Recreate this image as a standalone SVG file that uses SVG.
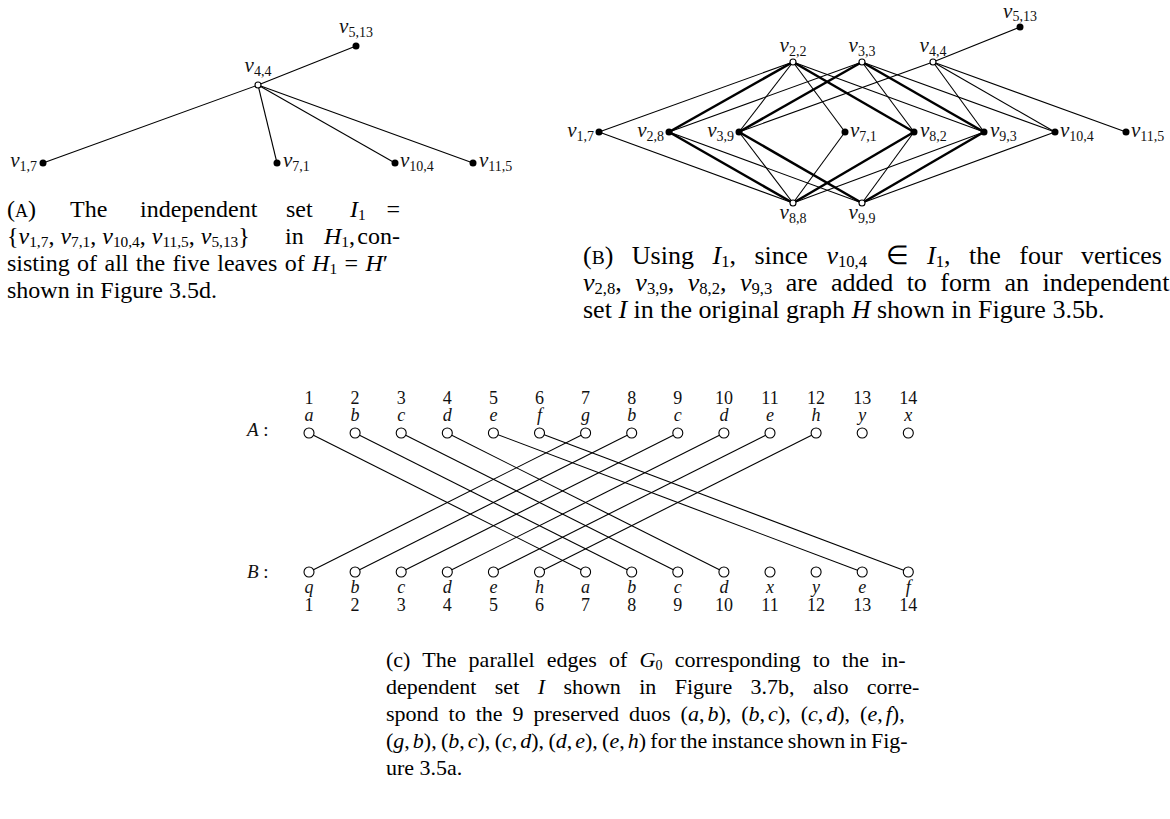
<svg xmlns="http://www.w3.org/2000/svg" width="1170" height="819" viewBox="0 0 1170 819">
<style>
.bg{fill:#fff}
.e{stroke:#000;stroke-width:1.1;fill:none}
.t{stroke:#000;stroke-width:2.5;fill:none}
.f{fill:#000}
.o{fill:#fff;stroke:#000;stroke-width:1.1}
.lab{font-family:"Liberation Serif",serif;font-size:21px;font-style:italic;fill:#111}
.s{font-size:14px;font-style:normal}
.m{text-anchor:middle}
.r{text-anchor:end}
.cl{font-family:"Liberation Serif",serif;font-size:18px;fill:#111;text-anchor:middle}
.ci{font-style:italic}
.cap{font-family:"Liberation Serif",serif;fill:#000}
.ca{font-size:24px}
.cb{font-size:26px}
.cc{font-size:22px}
.i{font-style:italic}
.cs{font-size:0.64em}
.sc{font-size:0.75em}
</style>
<rect class="bg" x="0" y="0" width="1170" height="819"/>

<!-- Panel A -->
<g id="panelA-edges">
<line class="e" x1="258" y1="85" x2="356" y2="46"/>
<line class="e" x1="258" y1="85" x2="43" y2="163"/>
<line class="e" x1="258" y1="85" x2="277" y2="163"/>
<line class="e" x1="258" y1="85" x2="395" y2="163"/>
<line class="e" x1="258" y1="85" x2="473" y2="163"/>
</g>
<g id="A-v44"><circle class="o" cx="258" cy="85" r="3"/><text class="lab m" x="258" y="72">v<tspan class="s" dy="4">4,4</tspan></text></g>
<g id="A-v513"><circle class="f" cx="356" cy="46" r="3.5"/><text class="lab m" x="356" y="33">v<tspan class="s" dy="4">5,13</tspan></text></g>
<g id="A-v17"><circle class="f" cx="43" cy="163" r="3.5"/><text class="lab r" x="37" y="167">v<tspan class="s" dy="4">1,7</tspan></text></g>
<g id="A-v71"><circle class="f" cx="277" cy="163" r="3.5"/><text class="lab" x="283" y="167">v<tspan class="s" dy="4">7,1</tspan></text></g>
<g id="A-v104"><circle class="f" cx="395" cy="163" r="3.5"/><text class="lab" x="400" y="167">v<tspan class="s" dy="4">10,4</tspan></text></g>
<g id="A-v115"><circle class="f" cx="473" cy="163" r="3.5"/><text class="lab" x="479" y="167">v<tspan class="s" dy="4">11,5</tspan></text></g>

<!-- Panel B -->
<g id="panelB-edges">
<line class="e" x1="599" y1="132" x2="793" y2="62"/>
<line class="e" x1="599" y1="132" x2="793" y2="203"/>
<line class="e" x1="669" y1="132" x2="862" y2="62"/>
<line class="e" x1="669" y1="132" x2="862" y2="203"/>
<line class="e" x1="739" y1="132" x2="793" y2="62"/>
<line class="e" x1="739" y1="132" x2="793" y2="203"/>
<line class="e" x1="739" y1="132" x2="933" y2="62"/>
<line class="e" x1="793" y1="62" x2="845" y2="132"/>
<line class="e" x1="793" y1="62" x2="984" y2="132"/>
<line class="e" x1="862" y1="62" x2="914" y2="132"/>
<line class="e" x1="862" y1="62" x2="1055" y2="132"/>
<line class="e" x1="933" y1="62" x2="1020" y2="27"/>
<line class="e" x1="933" y1="62" x2="984" y2="132"/>
<line class="e" x1="933" y1="62" x2="1055" y2="132"/>
<line class="e" x1="933" y1="62" x2="1126" y2="132"/>
<line class="e" x1="793" y1="203" x2="845" y2="132"/>
<line class="e" x1="793" y1="203" x2="984" y2="132"/>
<line class="e" x1="862" y1="203" x2="914" y2="132"/>
<line class="e" x1="862" y1="203" x2="1055" y2="132"/>
<line class="t" x1="669" y1="132" x2="793" y2="62"/>
<line class="t" x1="669" y1="132" x2="793" y2="203"/>
<line class="t" x1="739" y1="132" x2="862" y2="62"/>
<line class="t" x1="739" y1="132" x2="862" y2="203"/>
<line class="t" x1="793" y1="62" x2="914" y2="132"/>
<line class="t" x1="862" y1="62" x2="984" y2="132"/>
<line class="t" x1="793" y1="203" x2="914" y2="132"/>
<line class="t" x1="862" y1="203" x2="984" y2="132"/>
</g>
<g id="B-v17"><circle class="f" cx="599" cy="132" r="3.5"/><text class="lab r" x="594" y="137">v<tspan class="s" dy="4">1,7</tspan></text></g>
<g id="B-v28"><circle class="f" cx="669" cy="132" r="3.5"/><text class="lab r" x="664" y="137">v<tspan class="s" dy="4">2,8</tspan></text></g>
<g id="B-v39"><circle class="f" cx="739" cy="132" r="3.5"/><text class="lab r" x="734" y="137">v<tspan class="s" dy="4">3,9</tspan></text></g>
<g id="B-v71"><circle class="f" cx="845" cy="132" r="3.5"/><text class="lab" x="850" y="137">v<tspan class="s" dy="4">7,1</tspan></text></g>
<g id="B-v82"><circle class="f" cx="914" cy="132" r="3.5"/><text class="lab" x="920" y="137">v<tspan class="s" dy="4">8,2</tspan></text></g>
<g id="B-v93"><circle class="f" cx="984" cy="132" r="3.5"/><text class="lab" x="990" y="137">v<tspan class="s" dy="4">9,3</tspan></text></g>
<g id="B-v104"><circle class="f" cx="1055" cy="132" r="3.5"/><text class="lab" x="1060" y="137">v<tspan class="s" dy="4">10,4</tspan></text></g>
<g id="B-v115"><circle class="f" cx="1126" cy="132" r="3.5"/><text class="lab" x="1131" y="137">v<tspan class="s" dy="4">11,5</tspan></text></g>
<g id="B-v22"><circle class="o" cx="793" cy="62" r="3"/><text class="lab m" x="793" y="52">v<tspan class="s" dy="4">2,2</tspan></text></g>
<g id="B-v33"><circle class="o" cx="862" cy="62" r="3"/><text class="lab m" x="862" y="52">v<tspan class="s" dy="4">3,3</tspan></text></g>
<g id="B-v44"><circle class="o" cx="933" cy="62" r="3"/><text class="lab m" x="933" y="52">v<tspan class="s" dy="4">4,4</tspan></text></g>
<g id="B-v513"><circle class="f" cx="1020" cy="27" r="3.5"/><text class="lab m" x="1020" y="18">v<tspan class="s" dy="3">5,13</tspan></text></g>
<g id="B-v88"><circle class="o" cx="793" cy="203" r="3"/><text class="lab m" x="793" y="219">v<tspan class="s" dy="4">8,8</tspan></text></g>
<g id="B-v99"><circle class="o" cx="862" cy="203" r="3"/><text class="lab m" x="862" y="219">v<tspan class="s" dy="4">9,9</tspan></text></g>

<!-- Panel C -->
<g id="panelC-edges">
<line class="e" x1="309" y1="433" x2="585.6" y2="572"/>
<line class="e" x1="355.1" y1="433" x2="631.7" y2="572"/>
<line class="e" x1="401.2" y1="433" x2="677.8" y2="572"/>
<line class="e" x1="447.3" y1="433" x2="723.9" y2="572"/>
<line class="e" x1="493.4" y1="433" x2="862.2" y2="572"/>
<line class="e" x1="539.5" y1="433" x2="908.3" y2="572"/>
<line class="e" x1="585.6" y1="433" x2="309" y2="572"/>
<line class="e" x1="631.7" y1="433" x2="355.1" y2="572"/>
<line class="e" x1="677.8" y1="433" x2="401.2" y2="572"/>
<line class="e" x1="723.9" y1="433" x2="447.3" y2="572"/>
<line class="e" x1="770" y1="433" x2="493.4" y2="572"/>
<line class="e" x1="816.1" y1="433" x2="539.5" y2="572"/>
</g>
<g id="rowA">
<text class="cl" x="247" y="436" style="text-anchor:start;font-size:19px"><tspan class="ci">A</tspan> :</text>
<g id="A1"><circle class="o" cx="309" cy="433" r="5"/><text class="cl" x="309" y="404">1</text><text class="cl ci" x="309" y="421">a</text></g>
<g id="A2"><circle class="o" cx="355.1" cy="433" r="5"/><text class="cl" x="355.1" y="404">2</text><text class="cl ci" x="355.1" y="421">b</text></g>
<g id="A3"><circle class="o" cx="401.2" cy="433" r="5"/><text class="cl" x="401.2" y="404">3</text><text class="cl ci" x="401.2" y="421">c</text></g>
<g id="A4"><circle class="o" cx="447.3" cy="433" r="5"/><text class="cl" x="447.3" y="404">4</text><text class="cl ci" x="447.3" y="421">d</text></g>
<g id="A5"><circle class="o" cx="493.4" cy="433" r="5"/><text class="cl" x="493.4" y="404">5</text><text class="cl ci" x="493.4" y="421">e</text></g>
<g id="A6"><circle class="o" cx="539.5" cy="433" r="5"/><text class="cl" x="539.5" y="404">6</text><text class="cl ci" x="539.5" y="421">f</text></g>
<g id="A7"><circle class="o" cx="585.6" cy="433" r="5"/><text class="cl" x="585.6" y="404">7</text><text class="cl ci" x="585.6" y="421">g</text></g>
<g id="A8"><circle class="o" cx="631.7" cy="433" r="5"/><text class="cl" x="631.7" y="404">8</text><text class="cl ci" x="631.7" y="421">b</text></g>
<g id="A9"><circle class="o" cx="677.8" cy="433" r="5"/><text class="cl" x="677.8" y="404">9</text><text class="cl ci" x="677.8" y="421">c</text></g>
<g id="A10"><circle class="o" cx="723.9" cy="433" r="5"/><text class="cl" x="723.9" y="404">10</text><text class="cl ci" x="723.9" y="421">d</text></g>
<g id="A11"><circle class="o" cx="770" cy="433" r="5"/><text class="cl" x="770" y="404">11</text><text class="cl ci" x="770" y="421">e</text></g>
<g id="A12"><circle class="o" cx="816.1" cy="433" r="5"/><text class="cl" x="816.1" y="404">12</text><text class="cl ci" x="816.1" y="421">h</text></g>
<g id="A13"><circle class="o" cx="862.2" cy="433" r="5"/><text class="cl" x="862.2" y="404">13</text><text class="cl ci" x="862.2" y="421">y</text></g>
<g id="A14"><circle class="o" cx="908.3" cy="433" r="5"/><text class="cl" x="908.3" y="404">14</text><text class="cl ci" x="908.3" y="421">x</text></g>
</g>
<g id="rowB">
<text class="cl" x="247" y="578" style="text-anchor:start;font-size:19px"><tspan class="ci">B</tspan> :</text>
<g id="B1"><circle class="o" cx="309" cy="572" r="5"/><text class="cl ci" x="309" y="593">q</text><text class="cl" x="309" y="611">1</text></g>
<g id="B2"><circle class="o" cx="355.1" cy="572" r="5"/><text class="cl ci" x="355.1" y="593">b</text><text class="cl" x="355.1" y="611">2</text></g>
<g id="B3"><circle class="o" cx="401.2" cy="572" r="5"/><text class="cl ci" x="401.2" y="593">c</text><text class="cl" x="401.2" y="611">3</text></g>
<g id="B4"><circle class="o" cx="447.3" cy="572" r="5"/><text class="cl ci" x="447.3" y="593">d</text><text class="cl" x="447.3" y="611">4</text></g>
<g id="B5"><circle class="o" cx="493.4" cy="572" r="5"/><text class="cl ci" x="493.4" y="593">e</text><text class="cl" x="493.4" y="611">5</text></g>
<g id="B6"><circle class="o" cx="539.5" cy="572" r="5"/><text class="cl ci" x="539.5" y="593">h</text><text class="cl" x="539.5" y="611">6</text></g>
<g id="B7"><circle class="o" cx="585.6" cy="572" r="5"/><text class="cl ci" x="585.6" y="593">a</text><text class="cl" x="585.6" y="611">7</text></g>
<g id="B8"><circle class="o" cx="631.7" cy="572" r="5"/><text class="cl ci" x="631.7" y="593">b</text><text class="cl" x="631.7" y="611">8</text></g>
<g id="B9"><circle class="o" cx="677.8" cy="572" r="5"/><text class="cl ci" x="677.8" y="593">c</text><text class="cl" x="677.8" y="611">9</text></g>
<g id="B10"><circle class="o" cx="723.9" cy="572" r="5"/><text class="cl ci" x="723.9" y="593">d</text><text class="cl" x="723.9" y="611">10</text></g>
<g id="B11"><circle class="o" cx="770" cy="572" r="5"/><text class="cl ci" x="770" y="593">x</text><text class="cl" x="770" y="611">11</text></g>
<g id="B12"><circle class="o" cx="816.1" cy="572" r="5"/><text class="cl ci" x="816.1" y="593">y</text><text class="cl" x="816.1" y="611">12</text></g>
<g id="B13"><circle class="o" cx="862.2" cy="572" r="5"/><text class="cl ci" x="862.2" y="593">e</text><text class="cl" x="862.2" y="611">13</text></g>
<g id="B14"><circle class="o" cx="908.3" cy="572" r="5"/><text class="cl ci" x="908.3" y="593">f</text><text class="cl" x="908.3" y="611">14</text></g>
</g>

<!-- Captions -->
<g id="captionA" class="cap ca">
<text x="7" y="217">(<tspan class="sc">A</tspan>)</text>
<text x="70" y="217">The</text>
<text x="140" y="217">independent</text>
<text x="286" y="217">set</text>
<text x="350" y="217"><tspan class="i">I</tspan><tspan class="cs" dy="3">1</tspan></text>
<text x="400" y="217" text-anchor="end">=</text>
<text x="7" y="244">{<tspan class="i">v</tspan><tspan class="cs" dy="3">1,7</tspan><tspan dy="-3">, </tspan><tspan class="i">v</tspan><tspan class="cs" dy="3">7,1</tspan><tspan dy="-3">, </tspan><tspan class="i">v</tspan><tspan class="cs" dy="3">10,4</tspan><tspan dy="-3">, </tspan><tspan class="i">v</tspan><tspan class="cs" dy="3">11,5</tspan><tspan dy="-3">, </tspan><tspan class="i">v</tspan><tspan class="cs" dy="3">5,13</tspan><tspan dy="-3">}</tspan></text>
<text x="285" y="244">in</text>
<text x="324" y="244"><tspan class="i">H</tspan><tspan class="cs" dy="3">1</tspan><tspan dy="-3">,</tspan></text>
<text x="400" y="244" text-anchor="end">con-</text>
<text x="7" y="271" style="word-spacing:1.4px">sisting of all the five leaves of <tspan class="i">H</tspan><tspan class="cs" dy="3">1</tspan><tspan dy="-3"> = </tspan><tspan class="i">H</tspan>′</text>
<text x="7" y="298">shown in Figure 3.5d.</text>
</g>
<g id="captionB" class="cap cb">
<text x="583" y="264" style="word-spacing:12px">(<tspan class="sc">B</tspan>) Using <tspan class="i">I</tspan><tspan class="cs" dy="3">1</tspan><tspan dy="-3">, since </tspan><tspan class="i">v</tspan><tspan class="cs" dy="3">10,4</tspan><tspan dy="-3"> ∈ </tspan><tspan class="i">I</tspan><tspan class="cs" dy="3">1</tspan><tspan dy="-3">, the four vertices</tspan></text>
<text x="583" y="291" style="word-spacing:7px"><tspan class="i">v</tspan><tspan class="cs" dy="3">2,8</tspan><tspan dy="-3">, </tspan><tspan class="i">v</tspan><tspan class="cs" dy="3">3,9</tspan><tspan dy="-3">, </tspan><tspan class="i">v</tspan><tspan class="cs" dy="3">8,2</tspan><tspan dy="-3">, </tspan><tspan class="i">v</tspan><tspan class="cs" dy="3">9,3</tspan><tspan dy="-3"> are added to form an independent</tspan></text>
<text x="583" y="318">set <tspan class="i">I</tspan> in the original graph <tspan class="i">H</tspan> shown in Figure 3.5b.</text>
</g>
<g id="captionC" class="cap cc">
<text x="386" y="667" style="word-spacing:6.7px">(c) The parallel edges of <tspan class="i">G</tspan><tspan class="cs" dy="3">0</tspan><tspan dy="-3"> corresponding to the in-</tspan></text>
<text x="386" y="694" style="word-spacing:12.9px">dependent set <tspan class="i">I</tspan> shown in Figure 3.7b, also corre-</text>
<text x="386" y="721" style="word-spacing:4.5px">spond to the 9 preserved duos (<tspan class="i">a</tspan>,<tspan class="i" dx="3">b</tspan>), (<tspan class="i">b</tspan>,<tspan class="i" dx="3">c</tspan>), (<tspan class="i">c</tspan>,<tspan class="i" dx="3">d</tspan>), (<tspan class="i">e</tspan>,<tspan class="i" dx="3">f</tspan>),</text>
<text x="386" y="748" style="word-spacing:-1.2px">(<tspan class="i">g</tspan>,<tspan class="i" dx="3">b</tspan>), (<tspan class="i">b</tspan>,<tspan class="i" dx="3">c</tspan>), (<tspan class="i">c</tspan>,<tspan class="i" dx="3">d</tspan>), (<tspan class="i">d</tspan>,<tspan class="i" dx="3">e</tspan>), (<tspan class="i">e</tspan>,<tspan class="i" dx="3">h</tspan>) for the instance shown in Fig-</text>
<text x="386" y="775">ure 3.5a.</text>
</g>
</svg>
